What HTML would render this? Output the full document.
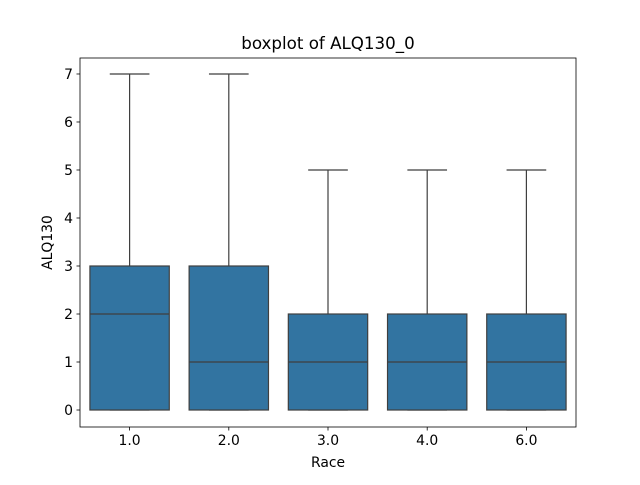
<!DOCTYPE html>
<html><head><meta charset="utf-8"><style>
body{margin:0;background:#fff;}
svg text{font-family:"DejaVu Sans","Liberation Sans",sans-serif;fill:#000;}
</style></head><body>
<svg id="chart" width="640" height="480" viewBox="0 0 640 480">
<rect width="640" height="480" fill="#fff"/>
</svg>
<script>
const categories = ["1.0","2.0","3.0","4.0","6.0"];
const whiskLow = [0,0,0,0,0];
const q1 = [0,0,0,0,0];
const medians = [2,1,1,1,1];
const q3 = [3,3,2,2,2];
const whiskHigh = [7,7,5,5,5];
const yTicks = [0,1,2,3,4,5,6,7];

const svg = document.getElementById('chart');
const NS = 'http://www.w3.org/2000/svg';
const L=80,R=576,T=58,B=427;
const yMin=-0.354,yMax=7.333;
const y = v => B - (v - yMin)/(yMax - yMin)*(B - T);
const band = (R-L)/categories.length;
const x = i => L + band*(i+0.5);
function mk(tag, attrs, parent){const e=document.createElementNS(NS,tag);for(const k in attrs)e.setAttribute(k,attrs[k]);(parent||svg).appendChild(e);return e;}

categories.forEach((c,i)=>{
  const g = mk('g',{});
  
  
  const cx=x(i), w=band*0.8;
  mk('line',{x1:cx,x2:cx,y1:y(q3[i]),y2:y(whiskHigh[i]),stroke:'#3f3f3f','stroke-width':1.2},g);
  mk('line',{x1:cx,x2:cx,y1:y(q1[i]),y2:y(whiskLow[i]),stroke:'#3f3f3f','stroke-width':1.2},g);
  mk('line',{x1:cx-w/4,x2:cx+w/4,y1:y(whiskHigh[i]),y2:y(whiskHigh[i]),stroke:'#3f3f3f','stroke-width':1.2},g);
  mk('line',{x1:cx-w/4,x2:cx+w/4,y1:y(whiskLow[i]),y2:y(whiskLow[i]),stroke:'#3f3f3f','stroke-width':1.2},g);
  mk('rect',{x:cx-w/2,y:y(q3[i]),width:w,height:y(q1[i])-y(q3[i]),fill:'#3274a1',stroke:'#3f3f3f','stroke-width':1.2},g);
  mk('line',{x1:cx-w/2,x2:cx+w/2,y1:y(medians[i]),y2:y(medians[i]),stroke:'#3f3f3f','stroke-width':1.2},g);
  mk('line',{x1:cx,x2:cx,y1:B,y2:B+3.5,stroke:'#000','stroke-width':0.8});
  const t=mk('text',{x:cx,y:B+18,'text-anchor':'middle','font-size':13.9});
  t.textContent=c;
  
  
});
yTicks.forEach(v=>{
  mk('line',{x1:L-3.5,x2:L,y1:y(v),y2:y(v),stroke:'#000','stroke-width':0.8});
  const t=mk('text',{x:L-7,y:y(v)+5,'text-anchor':'end','font-size':13.9});
  t.textContent=v;
  
  
});
const frame=mk('rect',{x:L,y:T,width:R-L,height:B-T,fill:'none',stroke:'#000','stroke-width':0.8});


const title=mk('text',{x:(L+R)/2,y:T-9,'text-anchor':'middle','font-size':16.7});
title.textContent='boxplot of ALQ130_0';


const xl=mk('text',{x:(L+R)/2,y:B+40,'text-anchor':'middle','font-size':13.9});
xl.textContent='Race';


const yl=mk('text',{x:0,y:0,'text-anchor':'middle','font-size':13.9,transform:`translate(52,${(T+B)/2}) rotate(-90)`});
yl.textContent='ALQ130';


</script>
</body></html>
